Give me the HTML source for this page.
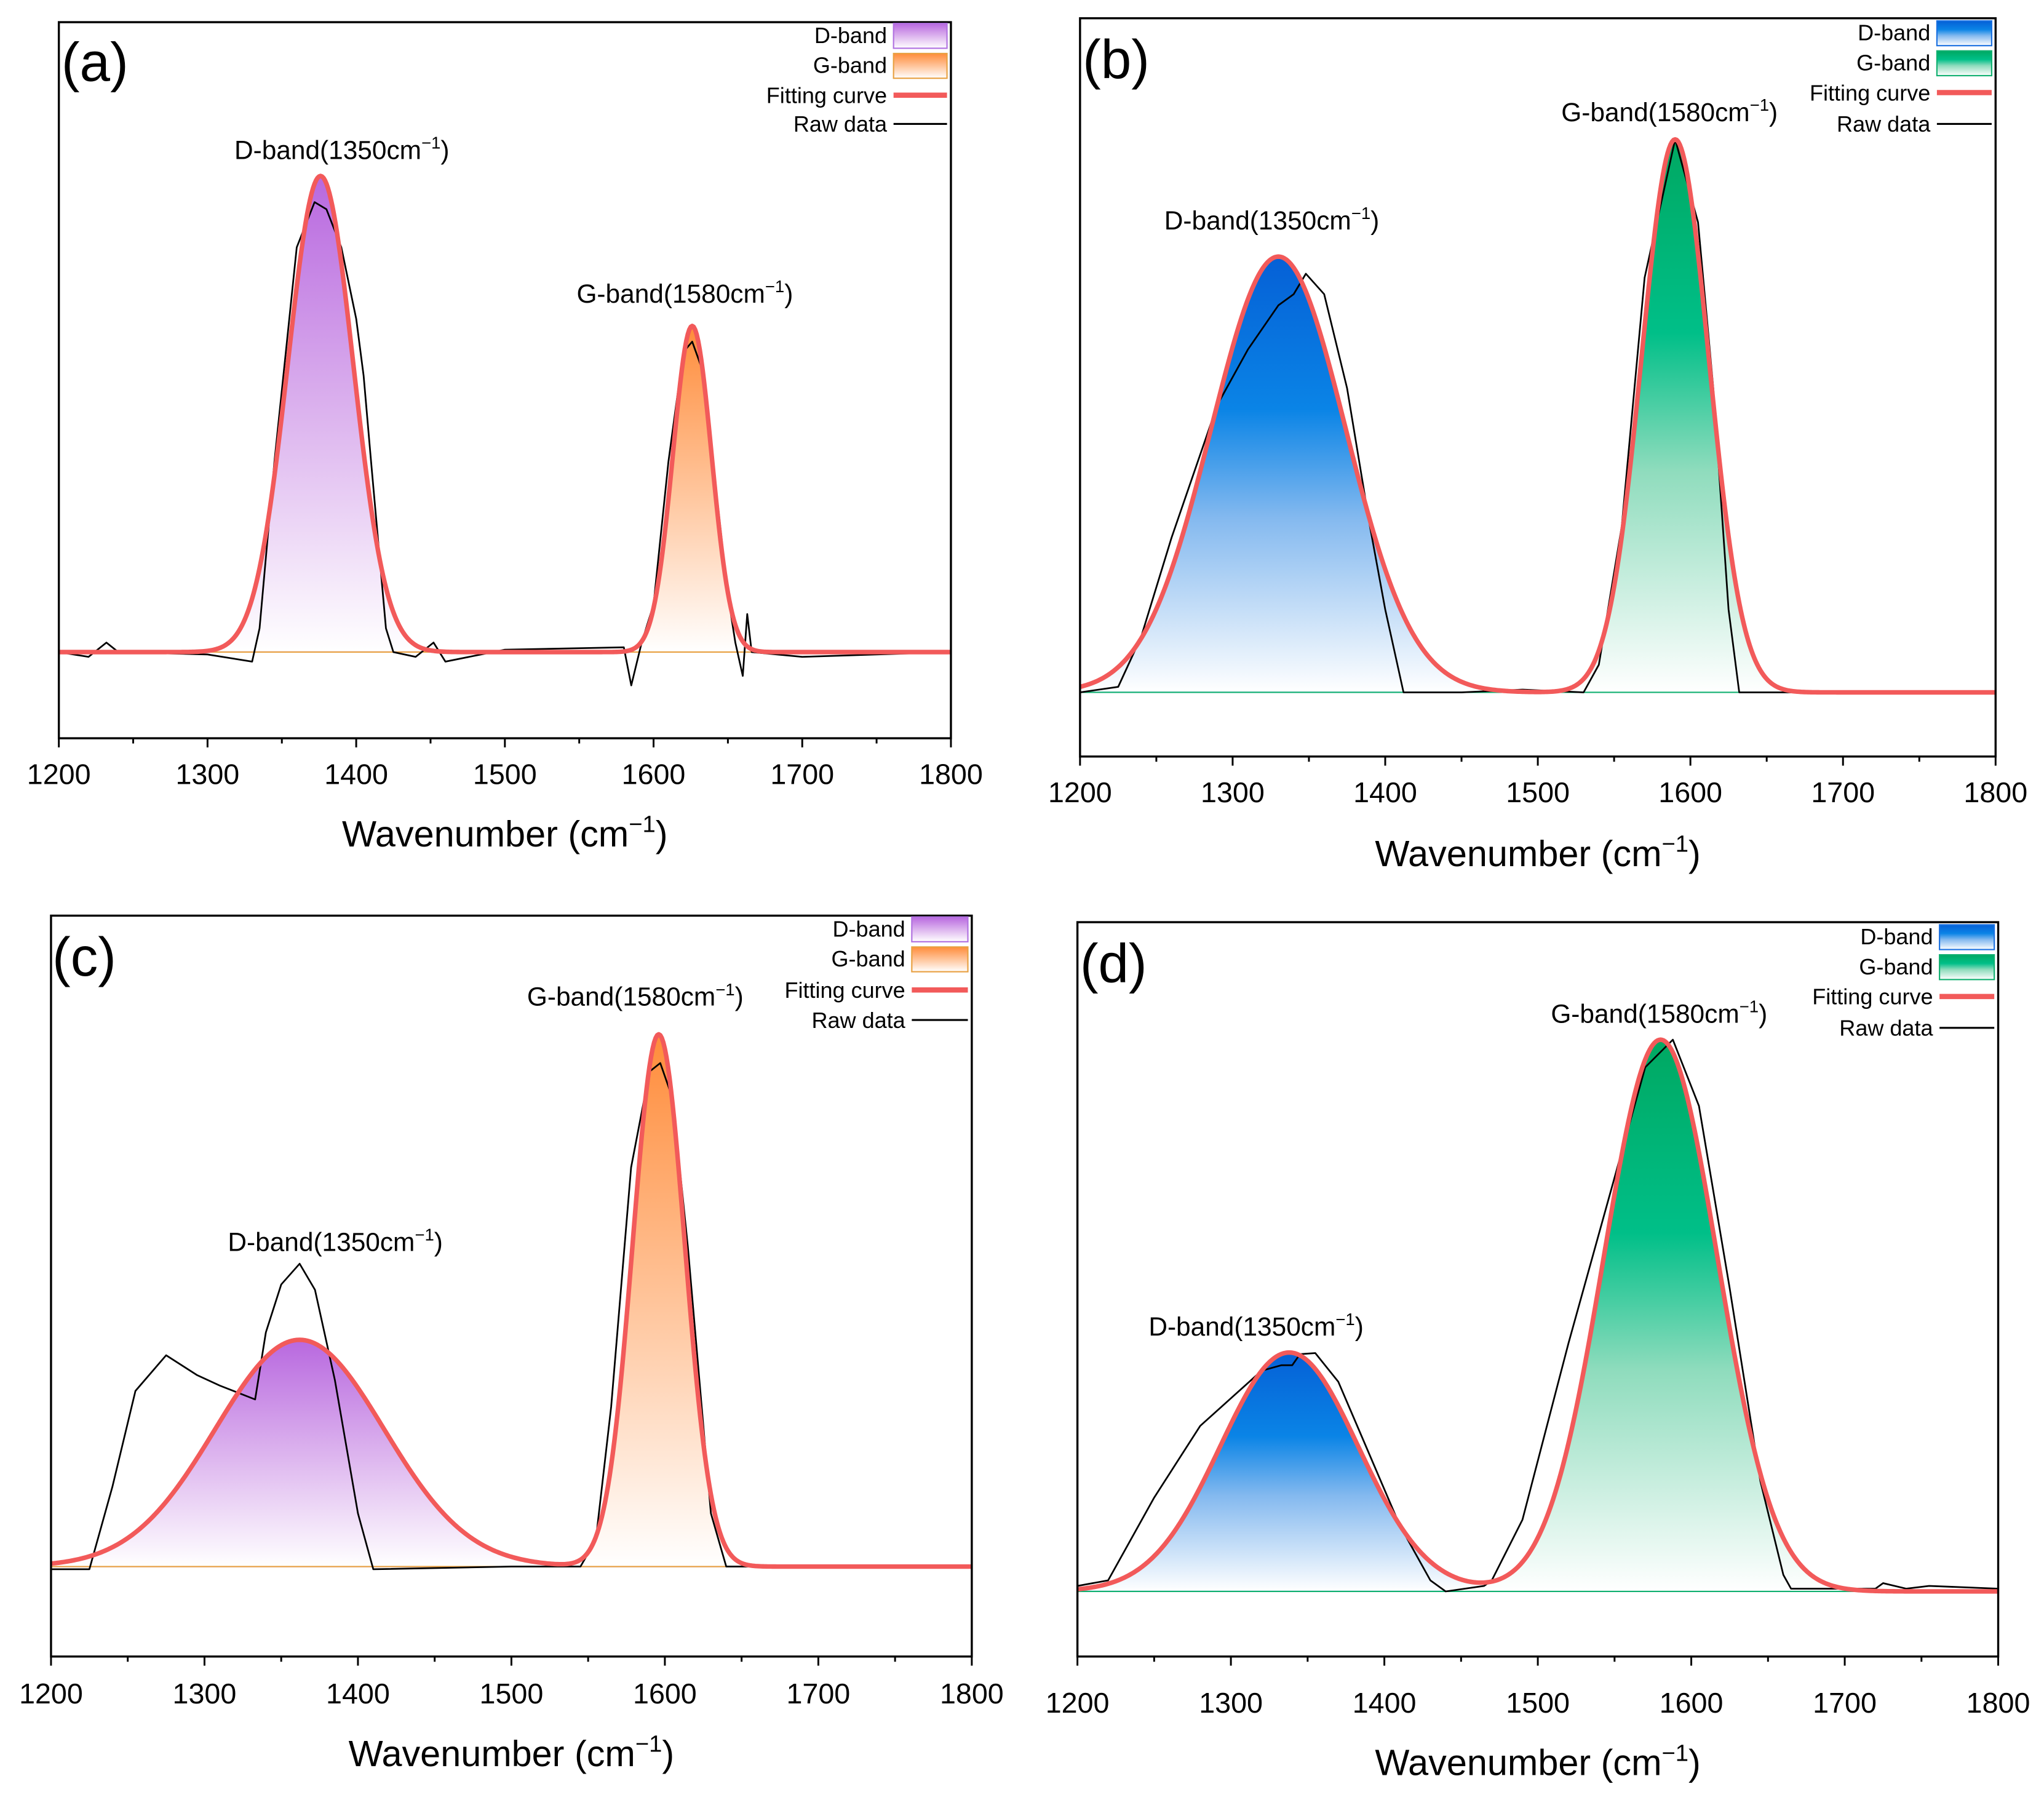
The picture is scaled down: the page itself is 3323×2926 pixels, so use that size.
<!DOCTYPE html>
<html><head><meta charset="utf-8"><style>
html,body{margin:0;padding:0;background:#fff;}
svg{display:block;}
text{font-family:"Liberation Sans",sans-serif;fill:#000;}
</style></head><body>
<svg id="fig" width="3323" height="2926" viewBox="0 0 1567 1380" xmlns="http://www.w3.org/2000/svg">
<defs>
<linearGradient id="gPurple" x1="0" y1="0" x2="0" y2="1"><stop offset="0" stop-color="#b868df"/><stop offset="0.5" stop-color="#dcb3ee"/><stop offset="1" stop-color="#ffffff"/></linearGradient>
<linearGradient id="gOrange" x1="0" y1="0" x2="0" y2="1"><stop offset="0" stop-color="#ff8c3a"/><stop offset="0.5" stop-color="#ffc49a"/><stop offset="1" stop-color="#ffffff"/></linearGradient>
<linearGradient id="gBlue" x1="0" y1="0" x2="0" y2="1"><stop offset="0" stop-color="#0560d6"/><stop offset="0.35" stop-color="#0a84e6"/><stop offset="0.6" stop-color="#84b9ef"/><stop offset="1" stop-color="#ffffff"/></linearGradient>
<linearGradient id="gGreen" x1="0" y1="0" x2="0" y2="1"><stop offset="0" stop-color="#00a862"/><stop offset="0.35" stop-color="#00bf88"/><stop offset="0.6" stop-color="#8fdcbd"/><stop offset="1" stop-color="#ffffff"/></linearGradient>
</defs>
</svg>
<script>
// ---- data (wavenumber, intensity) ----
const ticks = [1200,1300,1400,1500,1600,1700,1800];
const rawA_x = [1200,1220,1232,1240,1300,1330,1335,1345,1360,1372,1380,1390,1400,1405,1410,1420,1425,1440,1452,1460,1500,1580,1585,1592,1600,1610,1620,1626,1632,1640,1650,1655,1660,1663,1666,1700,1800];
const rawA_y = [0,-0.01,0.02,0,-0.005,-0.02,0.05,0.4,0.85,0.945,0.93,0.85,0.7,0.58,0.4,0.05,0,-0.01,0.02,-0.02,0.005,0.01,-0.07,0.02,0.1,0.4,0.63,0.652,0.6,0.4,0.12,0.02,-0.05,0.08,0,-0.01,0];
const rawB_x = [1200,1225,1240,1260,1290,1310,1330,1340,1348,1360,1375,1390,1400,1412,1450,1490,1530,1540,1555,1570,1590,1605,1615,1625,1632,1700,1800];
const rawB_y = [0,0.01,0.1,0.28,0.52,0.62,0.7,0.72,0.757,0.72,0.55,0.3,0.15,0,0,0.005,0,0.05,0.3,0.75,1.0,0.85,0.55,0.15,0,0,0];
const rawC_x = [1200,1225,1240,1255,1275,1295,1310,1333,1340,1350,1362,1372,1385,1400,1410,1500,1545,1555,1565,1578,1590,1597,1605,1615,1630,1640,1700,1800];
const rawC_y = [-0.005,-0.005,0.15,0.33,0.397,0.36,0.34,0.314,0.44,0.53,0.569,0.52,0.35,0.1,-0.005,0,0,0.05,0.3,0.75,0.93,0.946,0.88,0.6,0.1,0,0,0];
const rawD_x = [1200,1220,1250,1280,1300,1320,1333,1340,1345,1355,1370,1390,1410,1430,1440,1465,1470,1490,1520,1550,1570,1588,1605,1625,1645,1660,1665,1720,1725,1740,1755,1800];
const rawD_y = [0.01,0.02,0.17,0.3,0.35,0.4,0.41,0.41,0.43,0.432,0.38,0.25,0.12,0.02,0,0.01,0.02,0.13,0.45,0.75,0.95,1.0,0.88,0.55,0.2,0.03,0.005,0.005,0.015,0.005,0.01,0.005];
// fitted peaks: [center, amplitude, sigma]
const peaksA = [[1376,1.0,22],[1626,0.685,13]];
const peaksB = [[1330,0.788,44],[1590,1.0,22]];
const peaksC = [[1362,0.426,55],[1596,1.0,17]];
const peaksD = [[1338,0.433,45],[1580,1.0,37]];

const panels = [
 {id:'a',L:45,R:729,T:17,B:566,ymin:-0.181,ymax:1.323,rx:rawA_x,ry:rawA_y,pk:peaksA,f:['gPurple','gOrange'],sc:['#b070e0','#e8a040'],
  lab:[47,62],legX:680,legY:[27,50,73,95],ann:[[262,122,'D'],[525,232,'G']],tickY:601,titleY:649},
 {id:'b',L:828,R:1530,T:14,B:580,ymin:-0.116,ymax:1.219,rx:rawB_x,ry:rawB_y,pk:peaksB,f:['gBlue','gGreen'],sc:['#1a70e0','#10b070'],
  lab:[830,60],legX:1480,legY:[25,48,71,95],ann:[[975,176,'D'],[1280,93,'G']],tickY:615,titleY:664},
 {id:'c',L:39,R:745,T:702,B:1270,ymin:-0.169,ymax:1.223,rx:rawC_x,ry:rawC_y,pk:peaksC,f:['gPurple','gOrange'],sc:['#b070e0','#e8a040'],
  lab:[40,748],legX:694,legY:[712,735,759,782],ann:[[257,959,'D'],[487,771,'G']],tickY:1306,titleY:1354},
 {id:'d',L:826,R:1532,T:707,B:1270,ymin:-0.118,ymax:1.213,rx:rawD_x,ry:rawD_y,pk:peaksD,f:['gBlue','gGreen'],sc:['#1a70e0','#10b070'],
  lab:[828,753],legX:1482,legY:[718,741,764,788],ann:[[963,1024,'D'],[1272,784,'G']],tickY:1313,titleY:1361}
];
const NS='http://www.w3.org/2000/svg';
const svg=document.getElementById('fig');
function mk(tag,attrs,parent){const e=document.createElementNS(NS,tag);for(const k in attrs)e.setAttribute(k,attrs[k]);(parent||svg).appendChild(e);return e;}
function gauss(p,x){return p[1]*Math.exp(-0.5*Math.pow((x-p[0])/p[2],2));}
function labelText(g,x,y,band,wn,size){
  const t=mk('text',{x:x,y:y,'font-size':size,'text-anchor':'middle'},g);
  t.appendChild(document.createTextNode(band+'-band('+wn+'cm'));
  const s=mk('tspan',{'font-size':size*0.65,dy:-size*0.4},t);s.textContent='\u22121';
  const c=mk('tspan',{dy:size*0.4},t);c.textContent=')';
  return t;
}
panels.forEach(P=>{
  const g=mk('g',{});
  
  
  const sx=v=>P.L+(v-1200)/600*(P.R-P.L);
  const sy=v=>P.B-(v-P.ymin)/(P.ymax-P.ymin)*(P.B-P.T);
  const clip=mk('clipPath',{id:'clip'+P.id},g);
  mk('rect',{x:P.L,y:P.T,width:P.R-P.L,height:P.B-P.T},clip);
  const plot=mk('g',{'clip-path':'url(#clip'+P.id+')'},g);
  P.pk.forEach((p,i)=>{
    let d='M'+sx(1200)+','+sy(0);
    for(let x=1200;x<=1800;x+=1)d+=' L'+sx(x).toFixed(2)+','+sy(gauss(p,x)).toFixed(2);
    d+=' L'+sx(1800)+','+sy(0)+'Z';
    const a=mk('path',{d:d,fill:'url(#'+P.f[i]+')',stroke:'none'},plot);
    
    
    const bl=mk('line',{x1:P.L,x2:P.R,y1:sy(0),y2:sy(0),stroke:P.sc[i],'stroke-width':1},plot);
    
    
  });
  let rd='';
  P.rx.forEach((x,i)=>{rd+=(i?' L':'M')+sx(x).toFixed(2)+','+sy(P.ry[i]).toFixed(2);});
  const raw=mk('path',{d:rd,fill:'none',stroke:'#000','stroke-width':1.3,'stroke-linejoin':'round'},plot);
  
  
  let fd='';
  for(let x=1200;x<=1800;x+=1){const v=P.pk.reduce((s,p)=>s+gauss(p,x),0);fd+=(x>1200?' L':'M')+sx(x).toFixed(2)+','+sy(v).toFixed(2);}
  const fit=mk('path',{d:fd,fill:'none',stroke:'#f25a5a','stroke-width':3.5,'stroke-linejoin':'round'},plot);
  
  
  const fr=mk('rect',{x:P.L,y:P.T,width:P.R-P.L,height:P.B-P.T,fill:'none',stroke:'#000','stroke-width':1.6},g);
  
  
  for(let v=1200;v<=1800;v+=50){
    const major=v%100===0;
    mk('line',{x1:sx(v),x2:sx(v),y1:P.B,y2:P.B+(major?7:4),stroke:'#000','stroke-width':1.4},g);
  }
  ticks.forEach(v=>{
    const t=mk('text',{x:sx(v),y:P.tickY,'font-size':22,'text-anchor':'middle'},g);
    
    
    t.textContent=v;
  });
  const at=mk('text',{x:(P.L+P.R)/2,y:P.titleY,'font-size':28,'text-anchor':'middle'},g);
  
  
  at.appendChild(document.createTextNode('Wavenumber (cm'));
  const s1=mk('tspan',{'font-size':18,dy:-11},at);s1.textContent='\u22121';
  const s2=mk('tspan',{dy:11},at);s2.textContent=')';
  const pl=mk('text',{x:P.lab[0],y:P.lab[1],'font-size':42},g);
  
  
  pl.textContent='('+P.id+')';
  P.ann.forEach(a=>{
    const t=labelText(g,a[0],a[1],a[2],a[2]==='D'?1350:1580,20);
    
    
  });
  const lg=mk('g',{},g);
  
  
  const names=['D-band','G-band','Fitting curve','Raw data'];
  names.forEach((n,i)=>{
    const y=P.legY[i];
    const t=mk('text',{x:P.legX,y:y+6,'font-size':17,'text-anchor':'end'},lg);
    
    
    t.textContent=n;
    const x0=P.legX+5,x1=P.R-3;
    if(i<2){mk('rect',{x:x0,y:y-9,width:x1-x0,height:19,fill:'url(#'+P.f[i]+')',stroke:P.sc[i],'stroke-width':1},lg);}
    else if(i===2){mk('line',{x1:x0,x2:x1,y1:y,y2:y,stroke:'#f25a5a','stroke-width':4},lg);}
    else{mk('line',{x1:x0,x2:x1,y1:y,y2:y,stroke:'#000','stroke-width':1.5},lg);}
  });
});
</script>
</body></html>
